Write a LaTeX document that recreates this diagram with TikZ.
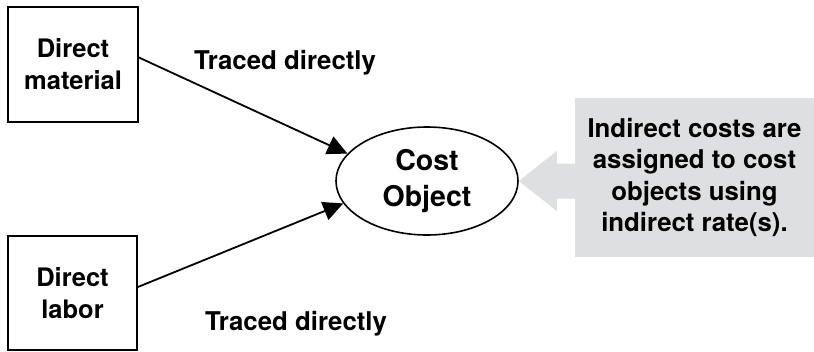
\documentclass[tikz,border=0pt]{standalone}
\usepackage{fontspec}
\setmainfont{TeX Gyre Heros}
\usetikzlibrary{arrows.meta,shapes.geometric}
\definecolor{notegray}{HTML}{DEDFE0}
\tikzset{
    block/.style={
        draw,
        line width=1.8pt,
        align=center,
        inner sep=0pt,
        font=\fontsize{25.5}{32}\selectfont\bfseries
    },
    costobj/.style={
        ellipse,
        draw,
        line width=1.6pt,
        align=center,
        inner sep=0pt,
        minimum width=182pt,
        minimum height=108pt,
        font=\fontsize{28.5}{36}\selectfont\bfseries
    },
    note/.style={
        fill=notegray,
        align=center,
        inner sep=0pt,
        minimum width=239pt,
        minimum height=159pt,
        font=\fontsize{25.8}{31.5}\selectfont\bfseries
    },
    tag/.style={
        font=\fontsize{25.8}{32}\selectfont\bfseries
    },
    line/.style={
        -{Triangle[length=20pt,width=19pt]},
        line width=1.8pt
    }
}

\begin{document}
\begin{tikzpicture}[x=1pt,y=-1pt]
\useasboundingbox (0,0) rectangle (814,351);

\node[block, minimum width=130pt, minimum height=115pt] (mat) at (73,64.5) {Direct\\material};
\node[block, minimum width=129pt, minimum height=114pt] (lab) at (72.5,293) {Direct\\labor};

\node[costobj] (obj) at (427,181) {Cost\\Object};

% block arrow from the note to the cost object
\fill[notegray] (obj.east) -- ++(38,-30) -- ++(0,12.5) -- ++(60,0) -- ++(0,35)
    -- ++(-60,0) -- ++(0,12.5) -- cycle;
\node[note] (rate) at (694.5,177.5) {Indirect costs are\\assigned to cost\\objects using\\indirect rate(s).};

\node[tag] (t1) at (285,63) {Traced directly};
\node[tag] (t2) at (296,324) {Traced directly};

\draw[line] ([yshift=7pt]mat.east) -- (obj.161);
\draw[line] ([yshift=6pt]lab.east) -- (obj.195);

\end{tikzpicture}
\end{document}
